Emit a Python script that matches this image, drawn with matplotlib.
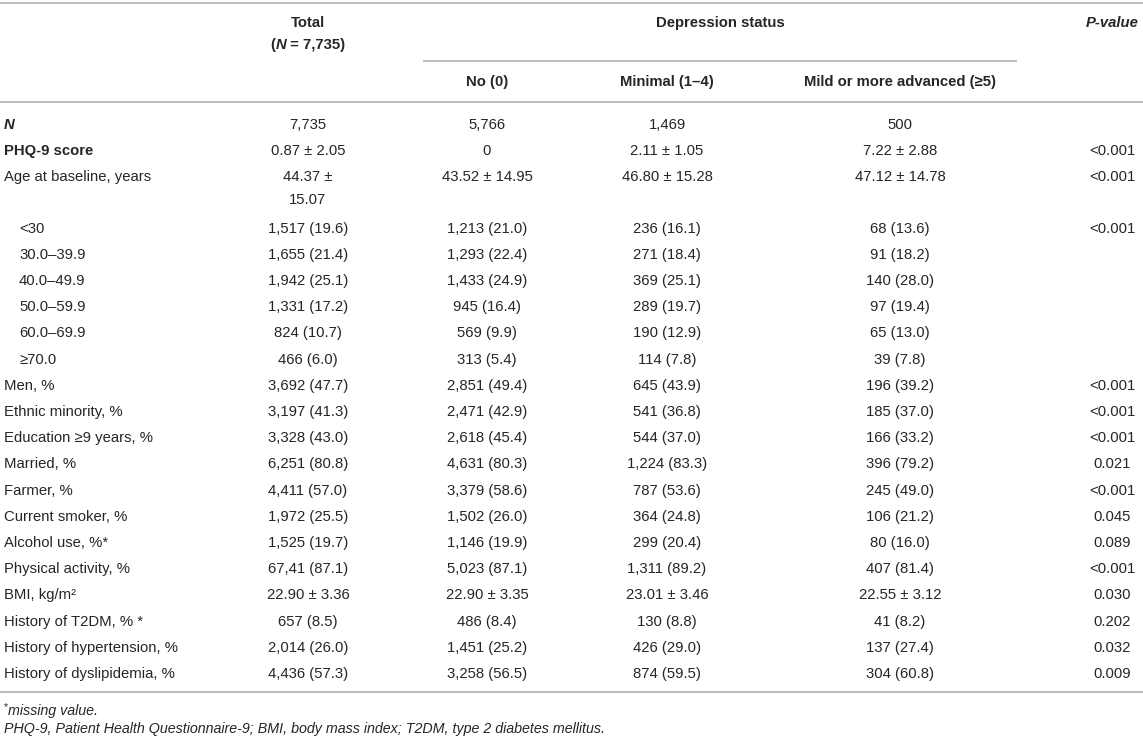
import matplotlib.pyplot as plt

plt.rcParams["font.family"] = ["Liberation Sans", "DejaVu Sans"]

# table content
row_labels = [
    "N", "PHQ-9 score", "Age at baseline, years", "<30", "30.0–39.9", "40.0–49.9",
    "50.0–59.9", "60.0–69.9", "≥70.0", "Men, %", "Ethnic minority, %",
    "Education ≥9 years, %", "Married, %", "Farmer, %", "Current smoker, %",
    "Alcohol use, %*", "Physical activity, %", "BMI, kg/m²", "History of T2DM, % *",
    "History of hypertension, %", "History of dyslipidemia, %",
]
indented = ["<30", "30.0–39.9", "40.0–49.9", "50.0–59.9", "60.0–69.9", "≥70.0"]

total = [
    "7,735", "0.87 ± 2.05", "44.37 ±\n15.07", "1,517 (19.6)", "1,655 (21.4)",
    "1,942 (25.1)", "1,331 (17.2)", "824 (10.7)", "466 (6.0)", "3,692 (47.7)",
    "3,197 (41.3)", "3,328 (43.0)", "6,251 (80.8)", "4,411 (57.0)", "1,972 (25.5)",
    "1,525 (19.7)", "67,41 (87.1)", "22.90 ± 3.36", "657 (8.5)", "2,014 (26.0)",
    "4,436 (57.3)",
]
no_dep = [
    "5,766", "0", "43.52 ± 14.95", "1,213 (21.0)", "1,293 (22.4)", "1,433 (24.9)",
    "945 (16.4)", "569 (9.9)", "313 (5.4)", "2,851 (49.4)", "2,471 (42.9)",
    "2,618 (45.4)", "4,631 (80.3)", "3,379 (58.6)", "1,502 (26.0)", "1,146 (19.9)",
    "5,023 (87.1)", "22.90 ± 3.35", "486 (8.4)", "1,451 (25.2)", "3,258 (56.5)",
]
minimal = [
    "1,469", "2.11 ± 1.05", "46.80 ± 15.28", "236 (16.1)", "271 (18.4)", "369 (25.1)",
    "289 (19.7)", "190 (12.9)", "114 (7.8)", "645 (43.9)", "541 (36.8)", "544 (37.0)",
    "1,224 (83.3)", "787 (53.6)", "364 (24.8)", "299 (20.4)", "1,311 (89.2)",
    "23.01 ± 3.46", "130 (8.8)", "426 (29.0)", "874 (59.5)",
]
mild = [
    "500", "7.22 ± 2.88", "47.12 ± 14.78", "68 (13.6)", "91 (18.2)", "140 (28.0)",
    "97 (19.4)", "65 (13.0)", "39 (7.8)", "196 (39.2)", "185 (37.0)", "166 (33.2)",
    "396 (79.2)", "245 (49.0)", "106 (21.2)", "80 (16.0)", "407 (81.4)",
    "22.55 ± 3.12", "41 (8.2)", "137 (27.4)", "304 (60.8)",
]
p_values = [
    "", "<0.001", "<0.001", "<0.001", "", "", "", "", "", "<0.001", "<0.001",
    "<0.001", "0.021", "<0.001", "0.045", "0.089", "<0.001", "0.030", "0.202",
    "0.032", "0.009",
]
sub_headers = ["No (0)", "Minimal (1–4)", "Mild or more advanced (≥5)"]
missing_note = "missing value."
abbrev_note = "PHQ-9, Patient Health Questionnaire-9; BMI, body mass index; T2DM, type 2 diabetes mellitus."

# layout (pixels)
W, H = 1143, 743
FS = 10.7
TXT = "#262626"
LINE = "#bdbdbd"
col_x = [308, 487, 667, 900, 1112]
label_x, indent_x = 4, 19
row0, pitch, line_gap = 125, 26.2, 23

fig = plt.figure(figsize=(W / 100, H / 100), dpi=100)
ax = fig.add_axes([0, 0, 1, 1])
ax.set_xlim(0, W)
ax.set_ylim(H, 0)
ax.axis("off")
renderer = fig.canvas.get_renderer()


def runs(x, y, parts, size=FS):
    # draw a centred line made of differently styled pieces
    items = []
    for s, weight, style in parts:
        t = ax.text(0, y, s, fontsize=size, fontweight=weight, fontstyle=style,
                    color=TXT, ha="left", va="center")
        items.append((t, t.get_window_extent(renderer).width))
    start = x - sum(w for _, w in items) / 2
    for t, w in items:
        t.set_x(start)
        start += w


# rules
ax.hlines([3, 102], 0, W, color=LINE, lw=1.5)
ax.hlines(61, 423, 1017, color=LINE, lw=1.5)

# header
ax.text(col_x[0], 23, "Total", fontsize=FS, fontweight="bold", color=TXT, ha="center", va="center")
runs(col_x[0], 45, [("(", "bold", "normal"), ("N", "bold", "italic"), (" = 7,735)", "bold", "normal")])
ax.text(720, 23, "Depression status", fontsize=FS, fontweight="bold", color=TXT, ha="center", va="center")
ax.text(col_x[4], 23, "P-value", fontsize=FS, fontweight="bold", fontstyle="italic",
        color=TXT, ha="center", va="center")
for x, s in zip(col_x[1:4], sub_headers):
    ax.text(x, 82, s, fontsize=FS, fontweight="bold", color=TXT, ha="center", va="center")

# body
y = row0
columns = [total, no_dep, minimal, mild, p_values]
for i, lab in enumerate(row_labels):
    weight = "bold" if i < 2 else "normal"
    style = "italic" if lab == "N" else "normal"
    lx = indent_x if lab in indented else label_x
    ax.text(lx, y, lab, fontsize=FS, fontweight=weight, fontstyle=style,
            color=TXT, ha="left", va="center")
    n_lines = 1
    for x, col in zip(col_x, columns):
        parts = col[i].split("\n")
        n_lines = max(n_lines, len(parts))
        for k, s in enumerate(parts):
            ax.text(x, y + k * line_gap, s, fontsize=FS, color=TXT, ha="center", va="center")
    y += pitch + (n_lines - 1) * (line_gap + 2)

bottom = y - pitch + 17.5
ax.hlines(bottom, 0, W, color=LINE, lw=1.5)

# footnotes
star = ax.text(label_x, bottom + 16, "*", fontsize=FS - 3, color=TXT, ha="left", va="center")
sw = star.get_window_extent(renderer).width
ax.text(label_x + sw, bottom + 19, missing_note, fontsize=FS - 0.4, fontstyle="italic",
        color=TXT, ha="left", va="center")
ax.text(label_x, bottom + 37, abbrev_note, fontsize=FS - 0.4, fontstyle="italic",
        color=TXT, ha="left", va="center")

fig.savefig("out.png", dpi=100, facecolor="white")
